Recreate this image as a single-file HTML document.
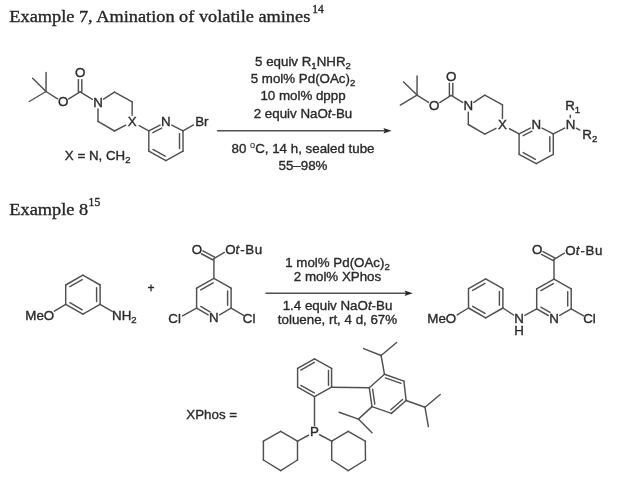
<!DOCTYPE html>
<html><head><meta charset="utf-8"><title>scheme</title>
<style>
html,body{margin:0;padding:0;background:#fff;}
body{width:640px;height:484px;overflow:hidden;}
svg{display:block;filter:blur(0.35px);}
.s{font-family:"Liberation Sans",sans-serif;fill:#2a2a2a;stroke:#2a2a2a;stroke-width:0.36px;}
.r{font-family:"Liberation Serif",serif;fill:#262626;stroke:#262626;stroke-width:0.35px;}
.b line{stroke:#505050;stroke-width:1.45;stroke-linecap:round;}
</style></head><body>
<svg width="640" height="484" viewBox="0 0 640 484">
<rect width="640" height="484" fill="#ffffff"/>
<g class="b">
<line x1="46.00" y1="91.50" x2="46.10" y2="72.40"/>
<line x1="46.00" y1="91.50" x2="32.60" y2="78.30"/>
<line x1="46.00" y1="91.50" x2="29.30" y2="101.50"/>
<line x1="46.00" y1="91.50" x2="57.53" y2="98.85"/>
<line x1="68.70" y1="98.91" x2="80.10" y2="91.80"/>
<line x1="81.80" y1="91.80" x2="81.80" y2="79.60"/>
<line x1="78.40" y1="91.80" x2="78.40" y2="79.60"/>
<line x1="80.10" y1="91.80" x2="92.38" y2="99.34"/>
<line x1="103.54" y1="99.21" x2="114.50" y2="92.10"/>
<line x1="114.50" y1="92.10" x2="132.20" y2="101.80"/>
<line x1="132.20" y1="101.80" x2="132.13" y2="115.30"/>
<line x1="125.70" y1="125.21" x2="114.50" y2="131.00"/>
<line x1="114.50" y1="131.00" x2="98.00" y2="121.40"/>
<line x1="98.00" y1="121.40" x2="98.00" y2="109.00"/>
<line x1="139.16" y1="125.66" x2="148.80" y2="130.80"/>
<line x1="148.80" y1="130.80" x2="160.03" y2="125.02"/>
<line x1="152.89" y1="132.63" x2="161.63" y2="128.13"/>
<line x1="171.77" y1="125.02" x2="183.00" y2="130.80"/>
<line x1="183.00" y1="130.80" x2="183.00" y2="151.20"/>
<line x1="179.50" y1="133.60" x2="179.50" y2="148.40"/>
<line x1="183.00" y1="151.20" x2="165.90" y2="160.60"/>
<line x1="165.90" y1="160.60" x2="148.80" y2="151.20"/>
<line x1="165.13" y1="156.18" x2="152.94" y2="149.48"/>
<line x1="148.80" y1="151.20" x2="148.80" y2="130.80"/>
<line x1="183.00" y1="130.80" x2="193.52" y2="124.91"/>
<line x1="417.00" y1="95.10" x2="417.10" y2="76.00"/>
<line x1="417.00" y1="95.10" x2="403.60" y2="81.90"/>
<line x1="417.00" y1="95.10" x2="400.30" y2="105.10"/>
<line x1="417.00" y1="95.10" x2="428.53" y2="102.45"/>
<line x1="439.70" y1="102.51" x2="451.10" y2="95.40"/>
<line x1="452.80" y1="95.40" x2="452.80" y2="83.20"/>
<line x1="449.40" y1="95.40" x2="449.40" y2="83.20"/>
<line x1="451.10" y1="95.40" x2="462.67" y2="102.46"/>
<line x1="473.84" y1="102.31" x2="484.80" y2="95.20"/>
<line x1="484.80" y1="95.20" x2="502.50" y2="104.90"/>
<line x1="502.50" y1="104.90" x2="502.43" y2="118.40"/>
<line x1="496.00" y1="128.31" x2="484.80" y2="134.10"/>
<line x1="484.80" y1="134.10" x2="468.30" y2="124.50"/>
<line x1="468.30" y1="124.50" x2="468.30" y2="112.10"/>
<line x1="509.46" y1="128.76" x2="519.10" y2="133.90"/>
<line x1="519.10" y1="133.90" x2="530.33" y2="128.12"/>
<line x1="523.19" y1="135.73" x2="531.93" y2="131.23"/>
<line x1="542.07" y1="128.12" x2="553.30" y2="133.90"/>
<line x1="553.30" y1="133.90" x2="553.30" y2="154.30"/>
<line x1="549.80" y1="136.70" x2="549.80" y2="151.50"/>
<line x1="553.30" y1="154.30" x2="536.20" y2="163.70"/>
<line x1="536.20" y1="163.70" x2="519.10" y2="154.30"/>
<line x1="535.43" y1="159.28" x2="523.24" y2="152.58"/>
<line x1="519.10" y1="154.30" x2="519.10" y2="133.90"/>
<line x1="553.30" y1="133.90" x2="564.64" y2="128.03"/>
<line x1="570.31" y1="117.60" x2="570.25" y2="115.20"/>
<line x1="576.48" y1="128.24" x2="579.80" y2="130.04"/>
<line x1="217.50" y1="130.70" x2="386.60" y2="130.70"/>
<polygon points="391.6,130.7 383.40000000000003,127.99999999999999 384.8,130.7 383.40000000000003,133.39999999999998" fill="#2b2b2b" stroke="none"/>
<line x1="65.70" y1="285.00" x2="82.90" y2="275.20"/>
<line x1="69.87" y1="286.65" x2="82.20" y2="279.63"/>
<line x1="82.90" y1="275.20" x2="100.10" y2="285.00"/>
<line x1="100.10" y1="285.00" x2="100.10" y2="304.30"/>
<line x1="96.60" y1="287.80" x2="96.60" y2="301.50"/>
<line x1="100.10" y1="304.30" x2="82.90" y2="314.20"/>
<line x1="82.90" y1="314.20" x2="65.70" y2="304.30"/>
<line x1="82.22" y1="309.77" x2="69.87" y2="302.66"/>
<line x1="65.70" y1="304.30" x2="65.70" y2="285.00"/>
<line x1="65.70" y1="304.30" x2="54.36" y2="311.19"/>
<line x1="100.10" y1="304.30" x2="112.22" y2="311.37"/>
<line x1="196.60" y1="288.20" x2="213.90" y2="278.40"/>
<line x1="200.76" y1="289.87" x2="213.19" y2="282.83"/>
<line x1="213.90" y1="278.40" x2="231.10" y2="288.20"/>
<line x1="231.10" y1="288.20" x2="231.10" y2="308.10"/>
<line x1="227.60" y1="291.00" x2="227.60" y2="305.30"/>
<line x1="231.10" y1="308.10" x2="219.61" y2="314.78"/>
<line x1="196.60" y1="308.10" x2="208.19" y2="314.80"/>
<line x1="200.78" y1="306.47" x2="209.94" y2="311.77"/>
<line x1="196.60" y1="308.10" x2="196.60" y2="288.20"/>
<line x1="213.90" y1="278.40" x2="213.90" y2="258.60"/>
<line x1="214.65" y1="257.19" x2="202.87" y2="250.91"/>
<line x1="213.15" y1="260.01" x2="201.37" y2="253.74"/>
<line x1="213.90" y1="258.60" x2="224.37" y2="252.44"/>
<line x1="196.60" y1="308.10" x2="182.55" y2="315.94"/>
<line x1="231.10" y1="308.10" x2="243.64" y2="315.35"/>
<line x1="266.00" y1="293.30" x2="407.80" y2="293.30"/>
<polygon points="412.8,293.3 404.6,290.6 406.0,293.3 404.6,296.0" fill="#2b2b2b" stroke="none"/>
<line x1="468.50" y1="288.70" x2="485.70" y2="278.90"/>
<line x1="472.67" y1="290.35" x2="485.00" y2="283.33"/>
<line x1="485.70" y1="278.90" x2="502.90" y2="288.70"/>
<line x1="502.90" y1="288.70" x2="502.90" y2="308.00"/>
<line x1="499.40" y1="291.50" x2="499.40" y2="305.20"/>
<line x1="502.90" y1="308.00" x2="485.70" y2="317.90"/>
<line x1="485.70" y1="317.90" x2="468.50" y2="308.00"/>
<line x1="485.02" y1="313.47" x2="472.67" y2="306.36"/>
<line x1="468.50" y1="308.00" x2="468.50" y2="288.70"/>
<line x1="468.50" y1="308.00" x2="457.16" y2="314.89"/>
<line x1="502.90" y1="308.00" x2="513.58" y2="314.99"/>
<line x1="536.70" y1="288.90" x2="554.00" y2="279.10"/>
<line x1="540.86" y1="290.57" x2="553.29" y2="283.53"/>
<line x1="554.00" y1="279.10" x2="571.20" y2="288.90"/>
<line x1="571.20" y1="288.90" x2="571.20" y2="308.80"/>
<line x1="567.70" y1="291.70" x2="567.70" y2="306.00"/>
<line x1="571.20" y1="308.80" x2="559.71" y2="315.48"/>
<line x1="536.70" y1="308.80" x2="548.29" y2="315.50"/>
<line x1="540.88" y1="307.17" x2="550.04" y2="312.47"/>
<line x1="536.70" y1="308.80" x2="536.70" y2="288.90"/>
<line x1="554.00" y1="279.10" x2="554.00" y2="259.30"/>
<line x1="554.75" y1="257.89" x2="542.97" y2="251.61"/>
<line x1="553.25" y1="260.71" x2="541.47" y2="254.44"/>
<line x1="554.00" y1="259.30" x2="564.47" y2="253.14"/>
<line x1="524.87" y1="315.39" x2="536.70" y2="308.80"/>
<line x1="571.20" y1="308.80" x2="583.63" y2="315.96"/>
<line x1="297.60" y1="368.40" x2="314.50" y2="358.80"/>
<line x1="300.87" y1="370.11" x2="314.29" y2="362.48"/>
<line x1="314.50" y1="358.80" x2="331.60" y2="368.40"/>
<line x1="331.60" y1="368.40" x2="331.60" y2="387.20"/>
<line x1="328.50" y1="370.40" x2="328.50" y2="385.20"/>
<line x1="331.60" y1="387.20" x2="314.50" y2="396.60"/>
<line x1="314.50" y1="396.60" x2="297.60" y2="387.20"/>
<line x1="314.26" y1="392.92" x2="300.85" y2="385.46"/>
<line x1="297.60" y1="387.20" x2="297.60" y2="368.40"/>
<line x1="314.50" y1="396.60" x2="314.50" y2="425.40"/>
<line x1="297.50" y1="441.20" x2="297.50" y2="460.00"/>
<line x1="297.50" y1="460.00" x2="280.70" y2="470.70"/>
<line x1="280.70" y1="470.70" x2="263.40" y2="460.00"/>
<line x1="263.40" y1="460.00" x2="263.40" y2="441.20"/>
<line x1="263.40" y1="441.20" x2="280.70" y2="431.30"/>
<line x1="280.70" y1="431.30" x2="297.50" y2="441.20"/>
<line x1="308.52" y1="435.24" x2="297.50" y2="441.20"/>
<line x1="331.70" y1="441.20" x2="348.20" y2="431.30"/>
<line x1="348.20" y1="431.30" x2="365.30" y2="441.20"/>
<line x1="365.30" y1="441.20" x2="365.50" y2="460.00"/>
<line x1="365.50" y1="460.00" x2="348.20" y2="470.70"/>
<line x1="348.20" y1="470.70" x2="331.70" y2="460.00"/>
<line x1="331.70" y1="460.00" x2="331.70" y2="441.20"/>
<line x1="319.61" y1="434.74" x2="331.70" y2="441.20"/>
<line x1="331.60" y1="387.20" x2="369.30" y2="387.70"/>
<line x1="369.30" y1="387.70" x2="384.50" y2="374.30"/>
<line x1="384.50" y1="374.30" x2="403.90" y2="381.10"/>
<line x1="385.36" y1="377.89" x2="400.99" y2="383.36"/>
<line x1="403.90" y1="381.10" x2="406.10" y2="400.50"/>
<line x1="406.10" y1="400.50" x2="391.40" y2="413.40"/>
<line x1="402.55" y1="399.49" x2="390.86" y2="409.75"/>
<line x1="391.40" y1="413.40" x2="372.00" y2="406.60"/>
<line x1="372.00" y1="406.60" x2="369.30" y2="387.70"/>
<line x1="374.79" y1="404.18" x2="372.65" y2="389.24"/>
<line x1="384.50" y1="374.30" x2="381.10" y2="355.50"/>
<line x1="381.10" y1="355.50" x2="363.60" y2="348.60"/>
<line x1="381.10" y1="355.50" x2="396.60" y2="342.50"/>
<line x1="406.10" y1="400.50" x2="425.00" y2="407.30"/>
<line x1="425.00" y1="407.30" x2="440.20" y2="394.50"/>
<line x1="425.00" y1="407.30" x2="428.40" y2="426.60"/>
<line x1="372.00" y1="406.60" x2="358.40" y2="419.10"/>
<line x1="358.40" y1="419.10" x2="339.10" y2="412.30"/>
<line x1="358.40" y1="419.10" x2="372.00" y2="432.70"/>
</g>
<g>
<text x="63.10" y="106.40" font-size="13.33" text-anchor="middle" class="s" >O</text>
<text x="80.10" y="77.40" font-size="13.33" text-anchor="middle" class="s" >O</text>
<text x="98.00" y="106.80" font-size="13.33" text-anchor="middle" class="s" >N</text>
<text x="132.10" y="125.90" font-size="13.33" text-anchor="middle" class="s" >X</text>
<text x="165.90" y="126.00" font-size="13.33" text-anchor="middle" class="s" >N</text>
<text x="195.20" y="125.80" font-size="13.33" text-anchor="start" class="s" >Br</text>
<text x="64.80" y="160.30" font-size="13.33" text-anchor="start" class="s" >X = N, CH<tspan font-size="9.6" dy="2.8">2</tspan></text>
<text x="434.10" y="110.00" font-size="13.33" text-anchor="middle" class="s" >O</text>
<text x="451.10" y="81.00" font-size="13.33" text-anchor="middle" class="s" >O</text>
<text x="468.30" y="109.90" font-size="13.33" text-anchor="middle" class="s" >N</text>
<text x="502.40" y="129.00" font-size="13.33" text-anchor="middle" class="s" >X</text>
<text x="536.20" y="129.10" font-size="13.33" text-anchor="middle" class="s" >N</text>
<text x="570.50" y="129.00" font-size="13.33" text-anchor="middle" class="s" >N</text>
<text x="565.20" y="110.20" font-size="13.33" text-anchor="start" class="s" >R<tspan font-size="9.6" dy="2.8">1</tspan></text>
<text x="582.30" y="138.80" font-size="13.33" text-anchor="start" class="s" >R<tspan font-size="9.6" dy="2.8">2</tspan></text>
<text x="303.00" y="66.00" font-size="13.33" text-anchor="middle" class="s" >5 equiv R<tspan font-size="9.6" dy="2.8">1</tspan><tspan dy="-2.8">NHR</tspan><tspan font-size="9.6" dy="2.8">2</tspan></text>
<text x="303.00" y="83.00" font-size="13.33" text-anchor="middle" class="s" >5 mol% Pd(OAc)<tspan font-size="9.6" dy="2.8">2</tspan></text>
<text x="303.00" y="100.20" font-size="13.33" text-anchor="middle" class="s" >10 mol% dppp</text>
<text x="303.00" y="118.20" font-size="13.33" text-anchor="middle" class="s" >2 equiv NaO<tspan font-style="italic">t</tspan>-Bu</text>
<text x="303.00" y="152.60" font-size="13.33" text-anchor="middle" class="s" >80 <tspan font-size="9.2" dy="-4.6" stroke-width="0.1">o</tspan><tspan dy="4.6">C, 14 h, sealed tube</tspan></text>
<text x="303.00" y="170.40" font-size="13.33" text-anchor="middle" class="s" >55–98%</text>
<text x="25.30" y="320.00" font-size="13.33" text-anchor="start" class="s" >MeO</text>
<text x="112.10" y="320.00" font-size="13.33" text-anchor="start" class="s" >NH<tspan font-size="9.6" dy="2.8">2</tspan></text>
<text x="151.00" y="291.60" font-size="12" text-anchor="middle" class="s" >+</text>
<text x="213.90" y="322.40" font-size="13.33" text-anchor="middle" class="s" >N</text>
<text x="197.00" y="253.60" font-size="13.33" text-anchor="middle" class="s" >O</text>
<text x="225.20" y="254.40" font-size="13.33" text-anchor="start" class="s" >O<tspan font-style="italic" letter-spacing="1.0">t</tspan><tspan letter-spacing="0.6">-Bu</tspan></text>
<text x="168.30" y="322.80" font-size="13.33" text-anchor="start" class="s" >Cl</text>
<text x="242.80" y="322.80" font-size="13.33" text-anchor="start" class="s" >Cl</text>
<text x="337.50" y="267.20" font-size="13.33" text-anchor="middle" class="s" >1 mol% Pd(OAc)<tspan font-size="9.6" dy="2.8">2</tspan></text>
<text x="337.50" y="280.90" font-size="13.33" text-anchor="middle" class="s" >2 mol% XPhos</text>
<text x="337.50" y="309.50" font-size="13.33" text-anchor="middle" class="s" >1.4 equiv NaO<tspan font-style="italic">t</tspan>-Bu</text>
<text x="337.50" y="324.40" font-size="13.33" text-anchor="middle" class="s" >toluene, rt, 4 d, 67%</text>
<text x="427.30" y="323.20" font-size="13.33" text-anchor="start" class="s" >MeO</text>
<text x="519.10" y="322.60" font-size="13.33" text-anchor="middle" class="s" >N</text>
<text x="519.10" y="335.00" font-size="13.33" text-anchor="middle" class="s" >H</text>
<text x="554.00" y="323.10" font-size="13.33" text-anchor="middle" class="s" >N</text>
<text x="537.10" y="254.30" font-size="13.33" text-anchor="middle" class="s" >O</text>
<text x="565.30" y="255.10" font-size="13.33" text-anchor="start" class="s" >O<tspan font-style="italic" letter-spacing="1.0">t</tspan><tspan letter-spacing="0.6">-Bu</tspan></text>
<text x="583.20" y="323.20" font-size="13.33" text-anchor="start" class="s" >Cl</text>
<text x="186.30" y="418.50" font-size="13.33" text-anchor="start" class="s" >XPhos =</text>
<text x="314.50" y="436.00" font-size="13.33" text-anchor="middle" class="s" >P</text>
<text transform="translate(9.3,22.0) scale(1.078,1)" x="0" y="0" font-size="17" class="r">Example 7, Amination of volatile amines</text>
<text x="312.3" y="13.1" font-size="11.6" class="r">14</text>
<text transform="translate(9.3,215.0) scale(1.078,1)" x="0" y="0" font-size="17" class="r">Example 8</text>
<text x="88.6" y="206.1" font-size="11.6" class="r">15</text>
</g>
</svg>
</body></html>
